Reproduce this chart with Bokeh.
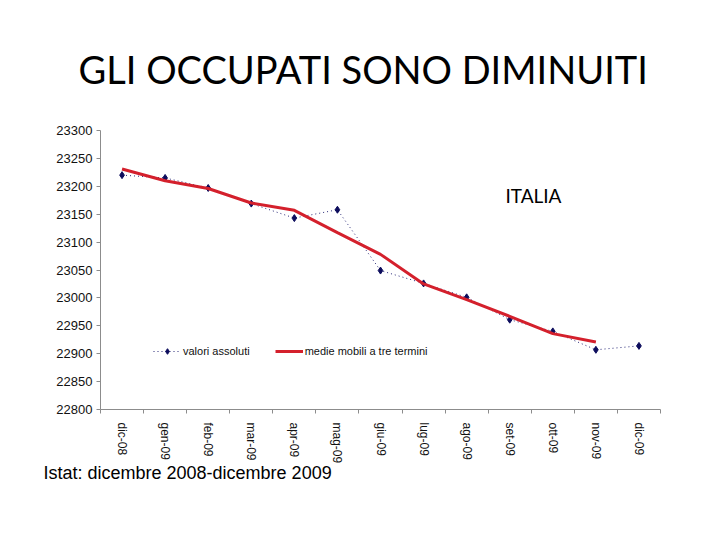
from bokeh.plotting import figure
from bokeh.models import FixedTicker, Legend, LegendItem, Label, Title
from bokeh.embed import file_html
from bokeh.resources import INLINE


#* data (migliaia di occupati)

months = ["dic-08", "gen-09", "feb-09", "mar-09", "apr-09", "mag-09", "giu-09",
          "lug-09", "ago-09", "set-09", "ott-09", "nov-09", "dic-09"]
valori = [23220, 23215, 23197, 23169, 23143, 23158, 23049,
          23026, 23001, 22961, 22940, 22907, 22914]
# centred moving average, no value for the last month
medie = [23231, 23210, 23196, 23170, 23157, 23117, 23078,
         23025, 22997, 22967, 22936, 22921]
y_ticks = [22800, 22850, 22900, 22950, 23000, 23050, 23100,
           23150, 23200, 23250, 23300]

x_pos = list(range(len(months)))
x_edges = [i - 0.5 for i in range(len(months) + 1)]

p = figure(width=704, height=524, output_backend="svg", toolbar_location=None,
           x_range=(-0.5, len(months) - 0.5), y_range=(22800, 23300),
           min_border_left=100, min_border_right=44,
           min_border_top=130, min_border_bottom=115)

p.outline_line_color = None
p.xgrid.grid_line_color = None
p.ygrid.grid_line_color = None
p.background_fill_color = "white"

# title of the slide (centred on the page, not on the frame)
p.title.text = "GLI OCCUPATI SONO DIMINUITI"
p.title.text_font = "Lato"
p.title.text_font_size = "38px"
p.title.text_font_style = "normal"
p.title.text_color = "black"
p.title.align = "left"
p.title.offset = -22
p.title.standoff = 78

# source note under the chart
note = Title(text="Istat: dicembre 2008-dicembre 2009", align="left",
             text_font="Liberation Sans", text_font_size="18px",
             text_font_style="normal", text_color="black", offset=-57, standoff=-12)
p.add_layout(note, "below")

# the series
dots = p.line(x_pos, valori, line_color="#2a2a78", line_width=1, line_dash="1 3")
pts = p.scatter(x_pos, valori, marker="diamond", size=7,
                fill_color="#0c0c5c", line_color="#0c0c5c")
red = p.line(x_pos[:len(medie)], medie, line_color="#d4202c", line_width=3)

# axes
p.xaxis.ticker = FixedTicker(ticks=x_pos, minor_ticks=x_edges)
p.xaxis.major_label_overrides = {i: m for i, m in zip(x_pos, months)}
p.xaxis.major_label_orientation = "vertical"
p.xaxis.major_tick_out = 0
p.xaxis.major_tick_in = 0
p.xaxis.minor_tick_out = 4
p.xaxis.minor_tick_in = 0
p.xaxis.major_label_standoff = 9

p.yaxis.ticker = FixedTicker(ticks=y_ticks)
p.yaxis.major_tick_out = 4
p.yaxis.major_tick_in = 0
p.yaxis.minor_tick_line_color = None
p.yaxis.major_label_standoff = 4

for ax in (p.xaxis, p.yaxis):
    ax.axis_line_color = "#8c8c8c"
    ax.major_tick_line_color = "#8c8c8c"
    ax.minor_tick_line_color = "#8c8c8c"
    ax.major_label_text_font = "Liberation Sans"
    ax.major_label_text_color = "#111111"
p.xaxis.major_label_text_font_size = "12px"
p.yaxis.major_label_text_font_size = "13px"

# label inside the plot
p.add_layout(Label(x=8.9, y=23183, text="ITALIA", text_font="Lato",
                   text_font_size="19px", text_baseline="middle",
                   text_color="black"))

legend = Legend(items=[LegendItem(label="valori assoluti", renderers=[dots, pts]),
                       LegendItem(label="medie mobili a tre termini", renderers=[red])],
                orientation="horizontal", location=(53, 51),
                padding=0, margin=0, spacing=25, glyph_width=28, glyph_height=14,
                label_height=14, label_standoff=2, border_line_color=None,
                background_fill_alpha=0, label_text_font="Liberation Sans",
                label_text_font_size="11px", label_text_color="#111111")
p.add_layout(legend)

open("out.html", "w").write(file_html(p, INLINE))
